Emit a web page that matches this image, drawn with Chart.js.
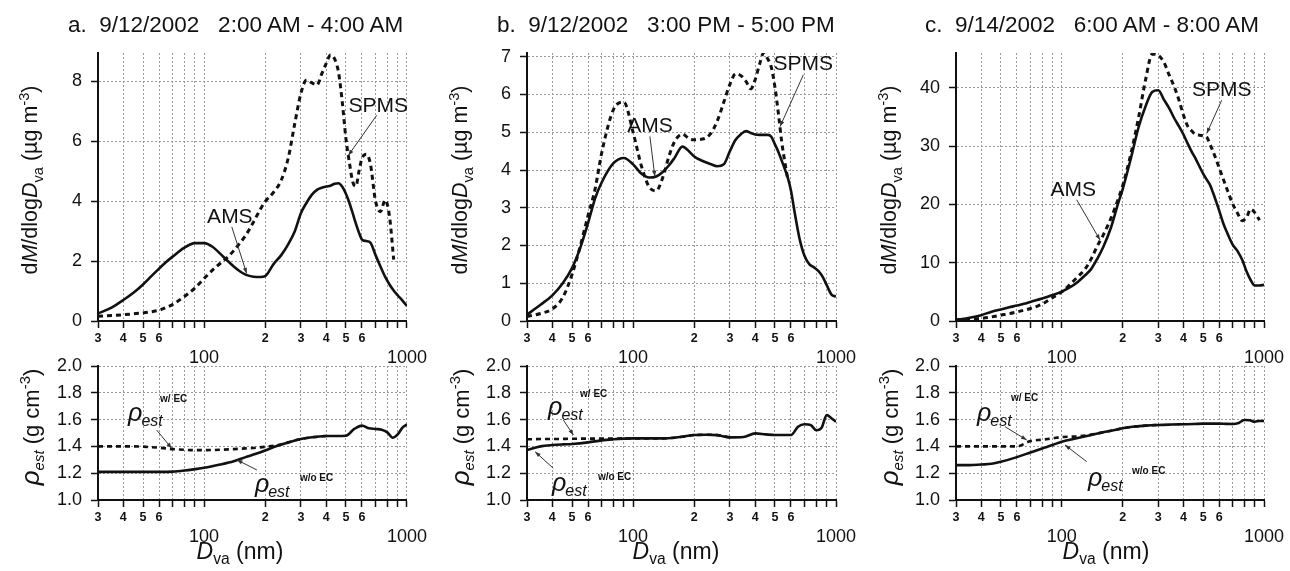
<!DOCTYPE html>
<html><head>
<meta charset="UTF-8">
<title>AMS vs SPMS mass distributions</title>
<script src="https://cdn.jsdelivr.net/npm/chart.js"></script>
<style>
* { margin: 0; padding: 0; box-sizing: border-box; }
body { background: #fff; width: 1290px; height: 571px; overflow: hidden; font-family: Arial, 'Liberation Sans', sans-serif; color: #111; }
#fig { position: relative; width: 1290px; height: 571px; }
canvas { position: absolute; }
.title { position: absolute; top: 12px; font-size: 22.5px; line-height: 26px; white-space: pre; z-index: 2; }
.ylab { position: absolute; transform: translate(-50%, -50%) rotate(-90deg); white-space: nowrap; font-size: 21.5px; z-index: 2; }
.ylab.rho { font-size: 22px; }
.xlab { position: absolute; transform: translate(-50%, -50%); white-space: nowrap; font-size: 23px; z-index: 2; }
.big { font-size: 26px; }
sub, sup { font-size: 68%; }
</style>
</head>
<body>
<div id="fig">
  <canvas id="topA" width="430" height="337" style="left:0;top:33px"></canvas>
  <canvas id="topB" width="430" height="337" style="left:430px;top:33px"></canvas>
  <canvas id="topC" width="430" height="337" style="left:860px;top:33px"></canvas>
  <canvas id="botA" width="430" height="225" style="left:0;top:346px"></canvas>
  <canvas id="botB" width="430" height="225" style="left:430px;top:346px"></canvas>
  <canvas id="botC" width="430" height="225" style="left:860px;top:346px"></canvas>

  <div class="title" style="left:68px">a.  9/12/2002   2:00 AM - 4:00 AM</div>
  <div class="title" style="left:497px">b.  9/12/2002   3:00 PM - 5:00 PM</div>
  <div class="title" style="left:925px">c.  9/14/2002   6:00 AM - 8:00 AM</div>

  <div class="ylab" style="left:31px;top:180px">d<i>M</i>/dlog<i>D</i><sub>va</sub> (µg m<sup>-3</sup>)</div>
  <div class="ylab" style="left:461px;top:180px">d<i>M</i>/dlog<i>D</i><sub>va</sub> (µg m<sup>-3</sup>)</div>
  <div class="ylab" style="left:890px;top:180px">d<i>M</i>/dlog<i>D</i><sub>va</sub> (µg m<sup>-3</sup>)</div>

  <div class="ylab rho" style="left:31px;top:427px"><i class="big">ρ</i><sub><i>est</i></sub> (g cm<sup>-3</sup>)</div>
  <div class="ylab rho" style="left:461px;top:427px"><i class="big">ρ</i><sub><i>est</i></sub> (g cm<sup>-3</sup>)</div>
  <div class="ylab rho" style="left:890px;top:427px"><i class="big">ρ</i><sub><i>est</i></sub> (g cm<sup>-3</sup>)</div>

  <div class="xlab" style="left:240px;top:553px"><i>D</i><sub>va</sub> (nm)</div>
  <div class="xlab" style="left:676px;top:553px"><i>D</i><sub>va</sub> (nm)</div>
  <div class="xlab" style="left:1106px;top:553px"><i>D</i><sub>va</sub> (nm)</div>
</div>

<script>
// vacuum aerodynamic diameter (nm) for the mass distributions
const dva = [30, 35, 40, 45, 50, 55, 60, 65, 70, 80, 90, 100, 110, 120, 130, 140, 150, 160, 175, 190,
  200, 220, 240, 260, 280, 300, 320, 340, 360, 380, 400, 420, 440, 460, 480, 500, 520, 540, 560, 580,
  600, 630, 660, 700, 740, 780, 820, 860, 900, 950, 1000];

// a. 9/12/2002 2-4 AM
const amsA = [0.25, 0.45, 0.70, 0.95, 1.22, 1.50, 1.75, 1.97, 2.15, 2.45, 2.60, 2.60, 2.48, 2.25, 2.02, 1.82, 1.66, 1.55, 1.48, 1.47,
  1.50, 1.90, 2.20, 2.57, 3.00, 3.60, 3.95, 4.22, 4.38, 4.45, 4.49, 4.52, 4.58, 4.60, 4.48, 4.25, 3.95, 3.60, 3.25, 2.95,
  2.72, 2.67, 2.62, 2.20, 1.82, 1.48, 1.22, 1.02, 0.86, 0.68, 0.50];
const spmsA = [0.16, 0.18, 0.21, 0.24, 0.27, 0.31, 0.36, 0.45, 0.55, 0.82, 1.10, 1.42, 1.70, 1.92, 2.12, 2.35, 2.60, 2.85, 3.30, 3.75,
  3.99, 4.30, 4.70, 5.45, 6.60, 7.60, 8.05, 7.95, 7.88, 8.25, 8.60, 8.88, 8.75, 8.30, 7.30, 6.10, 5.30, 4.65, 4.50, 5.00,
  5.43, 5.57, 5.25, 4.00, 3.65, 4.04, 3.50, 2.05, null, null, null];

// b. 9/12/2002 3-5 PM
const amsB = [0.17, 0.43, 0.68, 1.00, 1.40, 1.95, 2.60, 3.25, 3.67, 4.18, 4.32, 4.15, 3.90, 3.80, 3.83, 3.95, 4.12, 4.32, 4.62, 4.48,
  4.36, 4.24, 4.16, 4.10, 4.15, 4.50, 4.80, 4.95, 5.03, 4.98, 4.94, 4.93, 4.93, 4.93, 4.88, 4.68, 4.48, 4.25, 4.02, 3.78,
  3.45, 2.78, 2.20, 1.72, 1.50, 1.42, 1.32, 1.17, 0.95, 0.70, 0.65];
const spmsB = [0.12, 0.20, 0.32, 0.62, 1.23, 2.00, 2.80, 3.50, 4.45, 5.60, 5.80, 5.00, 4.10, 3.55, 3.45, 3.80, 4.35, 4.75, 4.95, 4.82,
  4.80, 4.82, 4.95, 5.30, 5.80, 6.27, 6.55, 6.50, 6.35, 6.15, 6.40, 6.80, 7.10, 6.95, 6.72, 6.20, 5.50, 4.75, 4.20, 3.72,
  null, null, null, null, null, null, null, null, null, null, null];

// c. 9/14/2002 6-8 AM
const amsC = [0.20, 0.55, 1.00, 1.60, 1.98, 2.35, 2.65, 2.95, 3.28, 3.85, 4.45, 5.05, 5.80, 6.70, 7.80, 8.95, 10.7, 12.6, 16.0, 20.2,
  22.6, 28.0, 33.3, 36.9, 39.3, 39.6, 38.0, 36.5, 34.8, 33.4, 32.0, 30.4, 29.0, 27.8, 26.5, 25.3, 24.3, 23.4, 22.0, 20.5,
  19.0, 16.7, 15.0, 13.1, 12.0, 10.5, 8.5, 7.0, 6.1, 6.1, 6.2];
const spmsC = [0.20, 0.30, 0.45, 0.70, 1.00, 1.25, 1.55, 1.85, 2.15, 2.90, 4.00, 5.00, 6.30, 7.60, 8.85, 10.7, 12.9, 14.7, 17.6, 20.9,
  23.2, 28.8, 35.0, 41.5, 45.8, 45.6, 44.4, 42.2, 40.2, 37.9, 35.3, 33.4, 32.6, 32.0, 31.9, 31.8, 31.6, 30.4, 29.1, 27.7,
  26.3, 24.3, 22.4, 20.1, 18.5, 17.2, 17.8, 19.2, 18.6, 17.3, null];

// estimated density, lower panels
const dvaRho = [30, 35, 40, 45, 50, 60, 70, 80, 90, 100, 120, 140, 160, 180, 200, 230, 260, 300, 350, 400,
  450, 500, 550, 600, 650, 700, 750, 800, 850, 900, 950, 1000];
const rhoNoEcA = [1.21, 1.21, 1.21, 1.21, 1.21, 1.21, 1.212, 1.22, 1.23, 1.24, 1.265, 1.29, 1.32, 1.345, 1.37, 1.405, 1.43, 1.455, 1.47, 1.478,
  1.478, 1.48, 1.53, 1.555, 1.535, 1.53, 1.525, 1.505, 1.465, 1.49, 1.54, 1.565];
const rhoEcA = [1.40, 1.40, 1.40, 1.40, 1.398, 1.39, 1.38, 1.375, 1.372, 1.372, 1.375, 1.38, 1.385, 1.39, 1.397, 1.41, 1.43, 1.455, 1.47, 1.478,
  null, null, null, null, null, null, null, null, null, null, null, null];
const rhoNoEcB = [1.373, 1.40, 1.41, 1.415, 1.418, 1.43, 1.445, 1.453, 1.458, 1.46, 1.46, 1.46, 1.465, 1.475, 1.485, 1.487, 1.484, 1.467, 1.47, 1.497,
  1.49, 1.485, 1.485, 1.485, 1.547, 1.565, 1.56, 1.52, 1.54, 1.634, 1.61, 1.584];
const rhoEcB = [1.453, 1.455, 1.455, 1.456, 1.457, 1.458, 1.458, 1.458, 1.46, 1.46, 1.46, 1.46, 1.465, 1.475, 1.485, 1.487, 1.484, 1.467,
  null, null, null, null, null, null, null, null, null, null, null, null, null, null];
const rhoNoEcC = [1.26, 1.26, 1.265, 1.27, 1.285, 1.32, 1.355, 1.385, 1.41, 1.435, 1.462, 1.485, 1.505, 1.52, 1.535, 1.548, 1.555, 1.56, 1.563, 1.565,
  1.567, 1.57, 1.57, 1.57, 1.568, 1.567, 1.575, 1.597, 1.595, 1.584, 1.59, 1.59];
const rhoEcC = [1.40, 1.40, 1.40, 1.40, 1.40, 1.40, 1.44, 1.45, 1.46, 1.47, 1.475, 1.488, 1.505, 1.52, 1.535, 1.548, 1.555, 1.56,
  null, null, null, null, null, null, null, null, null, null, null, null, null, null];

// log axis ticks and their labels
const xTicks = [30, 40, 50, 60, 70, 80, 90, 100, 200, 300, 400, 500, 600, 700, 800, 900, 1000];
const xTickLabels = ['3', '4', '5', '6', '', '', '', '100', '2', '3', '4', '5', '6', '', '', '', '1000'];

const FONT = "Arial, 'Liberation Sans', sans-serif";

// column geometry (pixels on the page)
const cols = [
  { left: 0, plotL: 98, plotR: 407 },
  { left: 430, plotL: 527, plotR: 836 },
  { left: 860, plotL: 956, plotR: 1264 }
];

// labels and pointer lines, in data coordinates
const notesTop = [
  [
    { type: 'label', text: 'AMS', x: 134, y: 3.48 },
    { type: 'arrow', x1: 137, y1: 3.14, x2: 162, y2: 1.59 },
    { type: 'label', text: 'SPMS', x: 722, y: 7.17 },
    { type: 'arrow', x1: 709, y1: 6.87, x2: 514, y2: 5.53 }
  ],
  [
    { type: 'label', text: 'AMS', x: 121, y: 5.15 },
    { type: 'arrow', x1: 121, y1: 4.89, x2: 128, y2: 3.83 },
    { type: 'label', text: 'SPMS', x: 690, y: 6.79 },
    { type: 'arrow', x1: 690, y1: 6.52, x2: 530, y2: 5.15 }
  ],
  [
    { type: 'label', text: 'AMS', x: 114, y: 22.5 },
    { type: 'arrow', x1: 118.6, y1: 20.8, x2: 154.6, y2: 13.9 },
    { type: 'label', text: 'SPMS', x: 618, y: 39.7 },
    { type: 'arrow', x1: 618, y1: 37.9, x2: 521, y2: 32.2 }
  ]
];
const notesBot = [
  [
    { type: 'rho', sup: 'w/ EC', x: 42.2, y: 1.59, dx: 32, dy: -19 },
    { type: 'arrow', x1: 58.4, y1: 1.522, x2: 69.2, y2: 1.386 },
    { type: 'rho', sup: 'w/o EC', x: 178, y: 1.06, dx: 45, dy: -11 },
    { type: 'arrow', x1: 182, y1: 1.224, x2: 145, y2: 1.30 }
  ],
  [
    { type: 'rho', sup: 'w/ EC', x: 38.1, y: 1.634, dx: 32, dy: -18 },
    { type: 'arrow', x1: 45.3, y1: 1.597, x2: 50.8, y2: 1.485 },
    { type: 'rho', sup: 'w/o EC', x: 39.8, y: 1.067, dx: 46, dy: -11 },
    { type: 'arrow', x1: 40.4, y1: 1.237, x2: 32.9, y2: 1.36 }
  ],
  [
    { type: 'rho', sup: 'w/ EC', x: 38.1, y: 1.59, dx: 34, dy: -20 },
    { type: 'arrow', x1: 52.4, y1: 1.547, x2: 67.1, y2: 1.448 },
    { type: 'rho', sup: 'w/o EC', x: 134.9, y: 1.104, dx: 44, dy: -12 },
    { type: 'arrow', x1: 132.9, y1: 1.286, x2: 103.8, y2: 1.41 }
  ]
];

const notesPlugin = {
  id: 'notes',
  afterDatasetsDraw(chart, args, opts) {
    const { ctx } = chart;
    const xs = chart.scales.x, ys = chart.scales.y;
    (opts.items || []).forEach(n => {
      ctx.save();
      ctx.fillStyle = '#111';
      ctx.strokeStyle = '#333';
      if (n.type === 'label') {
        const px = xs.getPixelForValue(n.x), py = ys.getPixelForValue(n.y);
        ctx.font = '21px ' + FONT;
        ctx.textAlign = 'center';
        ctx.textBaseline = 'middle';
        ctx.fillText(n.text, px, py);
      } else if (n.type === 'arrow') {
        const x1 = xs.getPixelForValue(n.x1), y1 = ys.getPixelForValue(n.y1);
        const x2 = xs.getPixelForValue(n.x2), y2 = ys.getPixelForValue(n.y2);
        ctx.lineWidth = 1;
        ctx.beginPath();
        ctx.moveTo(x1, y1);
        ctx.lineTo(x2, y2);
        ctx.stroke();
        const a = Math.atan2(y2 - y1, x2 - x1);
        ctx.beginPath();
        ctx.moveTo(x2, y2);
        ctx.lineTo(x2 - 6 * Math.cos(a - 0.35), y2 - 6 * Math.sin(a - 0.35));
        ctx.lineTo(x2 - 6 * Math.cos(a + 0.35), y2 - 6 * Math.sin(a + 0.35));
        ctx.closePath();
        ctx.fillStyle = '#333';
        ctx.fill();
      } else if (n.type === 'rho') {
        const px = xs.getPixelForValue(n.x), py = ys.getPixelForValue(n.y);
        ctx.textBaseline = 'alphabetic';
        ctx.font = 'italic 25px ' + FONT;
        ctx.fillText('ρ', px, py);
        const w = ctx.measureText('ρ').width;
        ctx.font = 'italic 16px ' + FONT;
        ctx.fillText('est', px + w - 1, py + 5);
        ctx.font = 'bold 10px ' + FONT;
        ctx.fillText(n.sup, px + n.dx, py + n.dy);
      }
      ctx.restore();
    });
  }
};

function xAxis(xAxisH) {
  return {
    type: 'logarithmic',
    min: 30,
    max: 1000,
    afterBuildTicks: sc => { sc.ticks = xTicks.map(v => ({ value: v })); },
    afterFit: sc => { sc.height = xAxisH; },
    border: { color: '#111', width: 2, dash: [2, 2] },
    grid: { color: '#9a9a9a', lineWidth: 1, tickColor: '#111', tickLength: 7, tickWidth: 1.5 },
    ticks: {
      autoSkip: false,
      maxRotation: 0,
      padding: 3,
      color: '#111',
      callback: (v, i) => {
        const t = xTickLabels[i];
        return t.length > 2 ? ['', t] : t;
      },
      font: c => {
        const big = c.tick && (c.tick.value === 100 || c.tick.value === 1000);
        return big ? { family: FONT, size: 18, lineHeight: 1 } : { family: FONT, size: 12.5, weight: 'bold', lineHeight: 1.2 };
      }
    }
  };
}

function yAxis(col, min, max, step, digits) {
  return {
    min: min,
    max: max,
    afterFit: sc => { sc.width = col.plotL - col.left; },
    border: { color: '#111', width: 2, dash: [2, 2] },
    grid: { color: '#9a9a9a', lineWidth: 1, tickColor: '#111', tickLength: 7, tickWidth: 1.5 },
    ticks: {
      stepSize: step,
      includeBounds: false,
      padding: 9,
      color: '#111',
      font: { family: FONT, size: 18 },
      callback: v => v.toFixed(digits)
    }
  };
}

function panel(id, col, xs, solid, dashed, opt) {
  return new Chart(document.getElementById(id), {
    type: 'line',
    data: {
      datasets: [
        {
          data: xs.map((d, i) => ({ x: d, y: solid[i] })),
          borderColor: '#111', borderWidth: opt.solidW, pointRadius: 0,
          cubicInterpolationMode: 'monotone', fill: false
        },
        {
          data: xs.map((d, i) => ({ x: d, y: dashed[i] })),
          borderColor: '#111', borderWidth: opt.dashW, borderDash: [5, 4], pointRadius: 0,
          cubicInterpolationMode: 'monotone', fill: false
        }
      ]
    },
    options: {
      responsive: false,
      animation: false,
      events: [],
      // the y scale asks for ~20px above its top tick, so padTop is kept at 20
      layout: { padding: { left: 0, right: col.left + 430 - col.plotR, top: opt.padTop, bottom: 0 } },
      plugins: {
        legend: { display: false },
        tooltip: { enabled: false },
        notes: { items: opt.notes }
      },
      scales: {
        x: xAxis(opt.xAxisH),
        y: yAxis(col, opt.min, opt.max, opt.step, opt.digits)
      }
    },
    plugins: [notesPlugin]
  });
}

const topSeries = [[amsA, spmsA], [amsB, spmsB], [amsC, spmsC]];
const botSeries = [[rhoNoEcA, rhoEcA], [rhoNoEcB, rhoEcB], [rhoNoEcC, rhoEcC]];
const topMax = [8.95, 7.1, 46];
const topStep = [2, 1, 10];
const ids = ['A', 'B', 'C'];

cols.forEach((col, k) => {
  panel('top' + ids[k], col, dva, topSeries[k][0], topSeries[k][1], {
    padTop: 20, xAxisH: 49, min: 0, max: topMax[k], step: topStep[k], digits: 0,
    solidW: 2.6, dashW: 3, notes: notesTop[k]
  });
  panel('bot' + ids[k], col, dvaRho, botSeries[k][0], botSeries[k][1], {
    padTop: 20, xAxisH: 71, min: 1.0, max: 2.0, step: 0.2, digits: 1,
    solidW: 2.6, dashW: 2.6, notes: notesBot[k]
  });
});
</script>
</body></html>
